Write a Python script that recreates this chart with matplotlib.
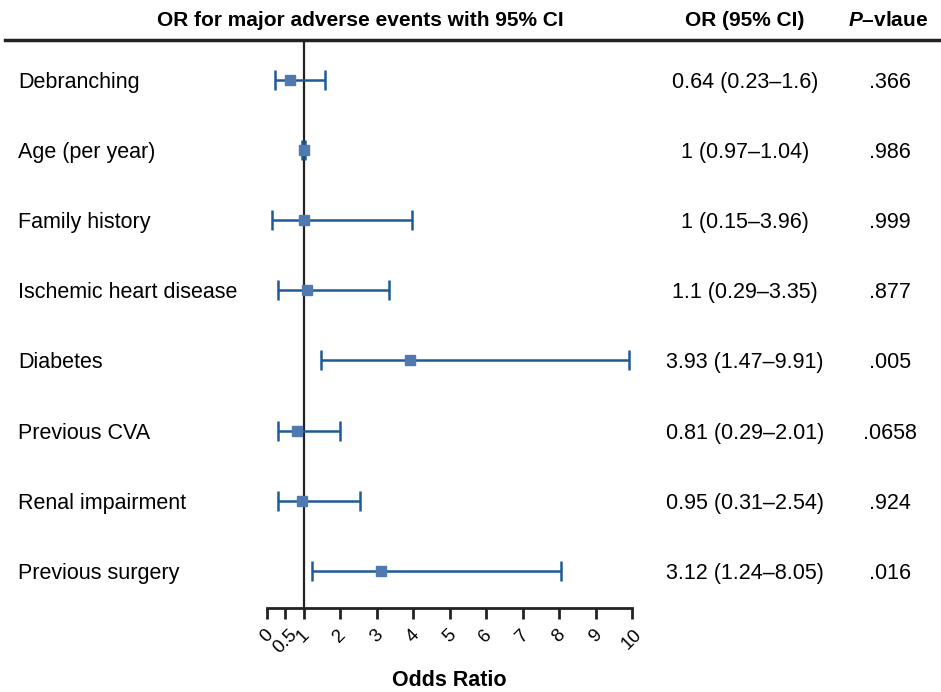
import matplotlib.pyplot as plt
from matplotlib.lines import Line2D
import matplotlib.transforms as mtransforms

plt.rcParams['font.family'] = ['Liberation Sans', 'DejaVu Sans']
plt.rcParams['mathtext.fontset'] = 'custom'
plt.rcParams['mathtext.rm'] = 'Liberation Sans'
plt.rcParams['mathtext.it'] = 'Liberation Sans:italic'
plt.rcParams['mathtext.bf'] = 'Liberation Sans:bold'
if 'mathtext.bfit' in plt.rcParams:
    plt.rcParams['mathtext.bfit'] = 'Liberation Sans:italic:bold'

# data
labels = ['Debranching', 'Age (per year)', 'Family history', 'Ischemic heart disease',
          'Diabetes', 'Previous CVA', 'Renal impairment', 'Previous surgery']
odds = [0.64, 1, 1, 1.1, 3.93, 0.81, 0.95, 3.12]
ci_low = [0.23, 0.97, 0.15, 0.29, 1.47, 0.29, 0.31, 1.24]
ci_high = [1.6, 1.04, 3.96, 3.35, 9.91, 2.01, 2.54, 8.05]
or_text = ['0.64 (0.23\u20131.6)', '1 (0.97\u20131.04)', '1 (0.15\u20133.96)', '1.1 (0.29\u20133.35)',
           '3.93 (1.47\u20139.91)', '0.81 (0.29\u20132.01)', '0.95 (0.31\u20132.54)', '3.12 (1.24\u20138.05)']
p_text = ['.366', '.986', '.999', '.877', '.005', '.0658', '.924', '.016']
xticks = [0, 0.5, 1, 2, 3, 4, 5, 6, 7, 8, 9, 10]
xticklabels = ['0', '0.5', '1', '2', '3', '4', '5', '6', '7', '8', '9', '10']

W, H = 941, 692
fig = plt.figure(figsize=(W / 100, H / 100), dpi=100)
ax = fig.add_axes([267 / W, (H - 608) / H, 365 / W, 568 / H])

rows = list(range(len(labels)))
err_lo = [o - l for o, l in zip(odds, ci_low)]
err_hi = [h - o for o, h in zip(odds, ci_high)]

ax.axvline(1, color='#222222', lw=1.6, zorder=1)
ax.errorbar(odds, rows, xerr=[err_lo, err_hi], fmt='none', ecolor='#1f5a96',
            elinewidth=1.8, capsize=7, capthick=1.8, zorder=2)
ax.plot(odds, rows, 's', color='#5079b0', markersize=6.5, zorder=3)

ax.set_xlim(0, 10)
ax.set_ylim(7.53, -0.57)
ax.set_yticks([])
for s in ['top', 'right', 'left']:
    ax.spines[s].set_visible(False)
ax.spines['bottom'].set_linewidth(2)
ax.spines['bottom'].set_color('#222222')
ax.set_xticks(xticks)
ax.set_xticklabels(xticklabels, rotation=45, ha='center', va='top', fontsize=13.5)
ax.tick_params(axis='x', length=8, width=2, color='#222222', pad=5)

# x label at fixed place below rotated ticks
fig.text(449 / W, 1 - 681 / H, 'Odds Ratio', fontsize=15.5, fontweight='bold',
         ha='center', va='center')

# table text
trans = mtransforms.blended_transform_factory(fig.transFigure, ax.transData)
for i in rows:
    ax.text(18 / W, i, labels[i], transform=trans, fontsize=15.5, va='center_baseline', ha='left')
    ax.text(745 / W, i, or_text[i], transform=trans, fontsize=15.5, va='center_baseline', ha='center')
    ax.text(890 / W, i, p_text[i], transform=trans, fontsize=15.5, va='center_baseline', ha='center')

# header
hy = 1 - 20 / H
fig.text(360 / W, hy, 'OR for major adverse events with 95% CI', fontsize=15,
         fontweight='bold', ha='center', va='center')
fig.text(745 / W, hy, 'OR (95% CI)', fontsize=15, fontweight='bold', ha='center', va='center')
fig.text(888 / W, hy, r'$\mathbfit{P}$' + '\u2013vlaue', fontsize=15, fontweight='bold',
         ha='center', va='center')
fig.add_artist(Line2D([5 / W, 1], [1 - 40 / H, 1 - 40 / H], transform=fig.transFigure,
                      color='#222222', lw=2.5))

fig.savefig('out.png', dpi=100)
